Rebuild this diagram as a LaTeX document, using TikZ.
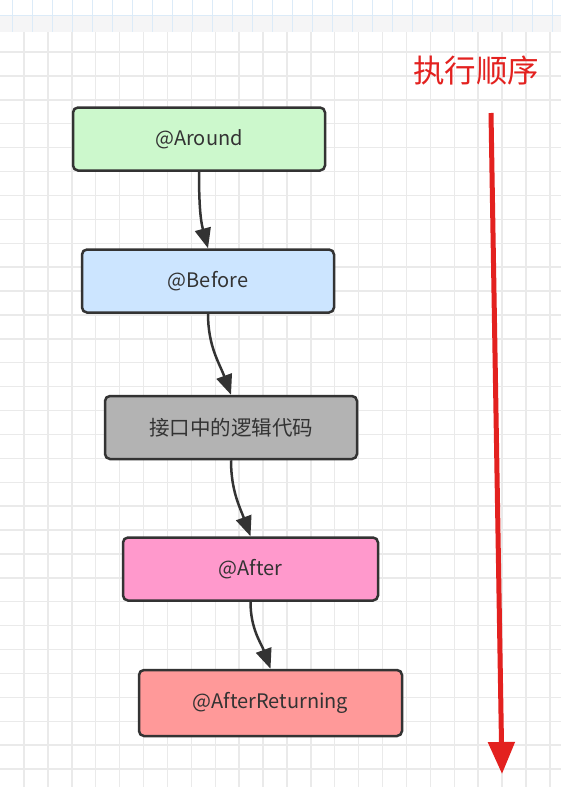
\documentclass[tikz,border=0pt]{standalone}
\usepackage{fontspec}
\setmainfont{Noto Sans CJK SC}
\usepackage{xcolor}
\usetikzlibrary{arrows.meta}
\definecolor{aroundgreen}{HTML}{CCF8CC}
\definecolor{beforeblue}{HTML}{CCE5FF}
\definecolor{codegray}{HTML}{B3B3B3}
\definecolor{afterpink}{HTML}{FF99CC}
\definecolor{returnred}{HTML}{FF9999}
\definecolor{orderred}{HTML}{E3211F}
\definecolor{gridgray}{HTML}{EAEAEA}
\definecolor{stripblue}{HTML}{DCEBF8}
\definecolor{stripgray}{HTML}{F5F5F6}
\definecolor{edgegray}{HTML}{333333}
\tikzset{
x=1pt, y=-1pt, % one unit is one pixel of the screenshot, y runs downwards
>={Triangle[length=20pt,width=16pt]}, % filled heads like the drawing tool
advice/.style={draw=edgegray, line width=2.5pt, rounded corners=5pt, minimum width=252pt, minimum height=63pt, text=edgegray, font=\fontsize{20}{24}\selectfont}, % sets the properties for each box
flow/.style={->, draw=edgegray, line width=2.5pt}, % the curved edges between boxes
order/.style={draw=orderred, line width=5pt, -{Triangle[length=32pt,width=26pt]}}, % the long red arrow
grid line/.style={gridgray, line width=1.4pt}, % background paper
}

\begin{document}
\begin{tikzpicture}
        \useasboundingbox (0,0) rectangle (561,787);
        \fill[white] (0,0) rectangle (561,787);
        \fill[stripgray] (0,15) rectangle (561,32);
        \foreach \sx in {0,...,27} \draw[stripblue, line width=0.8pt] ({12.7+20*\sx},0) -- ++(0,32);
        \draw[stripblue, line width=0.8pt] (0,15) -- (561,15);
        \foreach \gx in {0,...,22} \draw[grid line] ({24+23.9*\gx},32) -- ++(0,755);
        \foreach \gy in {0,...,30} \draw[grid line] (0,{52+23.9*\gy}) -- ++(561,0);

        \node[advice, fill=aroundgreen] (around) at (199,139) {@Around};
        \node[advice, fill=beforeblue] (before) at (208,281) {@Before};
        \node[advice, fill=codegray, font=\fontsize{20.5}{24}\selectfont] (code) at (231,427.5) {接口中的逻辑代码};
        \node[advice, fill=afterpink, minimum width=255pt] (after) at (250.5,569) {@After};
        \node[advice, fill=returnred, minimum width=263pt, minimum height=66pt] (returning) at (270.5,703) {@AfterReturning};
        \node[text=orderred, font=\fontsize{31.5}{36}\selectfont] (title) at (476,71) {执行顺序};
        \coordinate (ordertop) at (491,113);
        \coordinate (orderend) at (502,774);

        \path (around.south) edge[flow, out=-90, in=105] (before.north)
              (before.south) edge[flow, out=-90, in=110] (code.north)
              (code.south) edge[flow, out=-90, in=110] (after.north)
              (after.south) edge[flow, out=-90, in=110] (returning.north);
        \draw[order] (ordertop) -- (orderend);
    \end{tikzpicture}
\end{document}
